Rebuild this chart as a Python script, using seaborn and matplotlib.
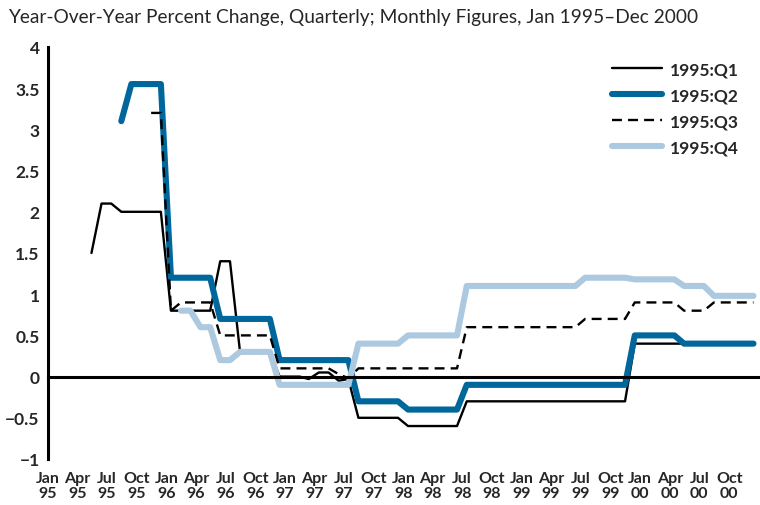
import matplotlib
matplotlib.use("Agg")
import matplotlib.dates as mdates
import matplotlib.pyplot as plt
import numpy as np
import pandas as pd
import seaborn as sns

nan = np.nan

# monthly observations, Jan 1995 - Dec 2000 (one row per year)
months = pd.date_range("1995-01-01", "2000-12-01", freq="MS")

q1 = [
    nan, nan, nan, nan, 1.5, 2.1, 2.1, 2.0, 2.0, 2.0, 2.0, 2.0,
    0.8, 0.8, 0.8, 0.8, 0.8, 1.4, 1.4, 0.3, 0.3, 0.3, 0.3, 0.0,
    0.0, 0.0, -0.03, 0.05, 0.05, -0.05, -0.03, -0.5, -0.5, -0.5, -0.5, -0.5,
    -0.6, -0.6, -0.6, -0.6, -0.6, -0.6, -0.3, -0.3, -0.3, -0.3, -0.3, -0.3,
    -0.3, -0.3, -0.3, -0.3, -0.3, -0.3, -0.3, -0.3, -0.3, -0.3, -0.3, 0.4,
    0.4, 0.4, 0.4, 0.4, 0.4, 0.4, 0.4, 0.4, 0.4, 0.4, 0.4, 0.4,
]
q2 = [
    nan, nan, nan, nan, nan, nan, nan, 3.1, 3.55, 3.55, 3.55, 3.55,
    1.2, 1.2, 1.2, 1.2, 1.2, 0.7, 0.7, 0.7, 0.7, 0.7, 0.7, 0.2,
    0.2, 0.2, 0.2, 0.2, 0.2, 0.2, 0.2, -0.3, -0.3, -0.3, -0.3, -0.3,
    -0.4, -0.4, -0.4, -0.4, -0.4, -0.4, -0.1, -0.1, -0.1, -0.1, -0.1, -0.1,
    -0.1, -0.1, -0.1, -0.1, -0.1, -0.1, -0.1, -0.1, -0.1, -0.1, -0.1, 0.5,
    0.5, 0.5, 0.5, 0.5, 0.4, 0.4, 0.4, 0.4, 0.4, 0.4, 0.4, 0.4,
]
q3 = [
    nan, nan, nan, nan, nan, nan, nan, nan, nan, nan, 3.2, 3.2,
    0.8, 0.9, 0.9, 0.9, 0.9, 0.5, 0.5, 0.5, 0.5, 0.5, 0.5, 0.1,
    0.1, 0.1, 0.1, 0.1, 0.1, 0.03, -0.02, 0.1, 0.1, 0.1, 0.1, 0.1,
    0.1, 0.1, 0.1, 0.1, 0.1, 0.1, 0.6, 0.6, 0.6, 0.6, 0.6, 0.6,
    0.6, 0.6, 0.6, 0.6, 0.6, 0.6, 0.7, 0.7, 0.7, 0.7, 0.7, 0.9,
    0.9, 0.9, 0.9, 0.9, 0.8, 0.8, 0.8, 0.9, 0.9, 0.9, 0.9, 0.9,
]
q4 = [
    nan, nan, nan, nan, nan, nan, nan, nan, nan, nan, nan, nan,
    nan, 0.8, 0.8, 0.6, 0.6, 0.2, 0.2, 0.3, 0.3, 0.3, 0.3, -0.1,
    -0.1, -0.1, -0.1, -0.1, -0.1, -0.1, -0.1, 0.4, 0.4, 0.4, 0.4, 0.4,
    0.5, 0.5, 0.5, 0.5, 0.5, 0.5, 1.1, 1.1, 1.1, 1.1, 1.1, 1.1,
    1.1, 1.1, 1.1, 1.1, 1.1, 1.1, 1.2, 1.2, 1.2, 1.2, 1.2, 1.18,
    1.18, 1.18, 1.18, 1.18, 1.1, 1.1, 1.1, 0.98, 0.98, 0.98, 0.98, 0.98,
]

vintages = ["1995:Q1", "1995:Q2", "1995:Q3", "1995:Q4"]
title = "Year-Over-Year Percent Change, Quarterly; Monthly Figures, Jan 1995\u2013Dec 2000"

quarter_ticks = pd.date_range("1995-01-01", "2001-01-01", freq="QS")
quarter_labels = [f"{d:%b}\n{d:%y}" for d in quarter_ticks[:-1]]

styles = {
    "1995:Q1": {"color": "black", "linewidth": 1.7, "linestyle": "-"},
    "1995:Q2": {"color": "#00679d", "linewidth": 4.4, "linestyle": "-"},
    "1995:Q3": {"color": "black", "linewidth": 1.7, "linestyle": (0, (4.2, 2.6))},
    "1995:Q4": {"color": "#adc9e0", "linewidth": 4.4, "linestyle": "-"},
}


def main() -> None:
    df = pd.DataFrame({"date": months + pd.Timedelta(days=14)})
    for name, vals in zip(vintages, [q1, q2, q3, q4]):
        df[name] = vals
    long = df.melt(id_vars="date", var_name="vintage", value_name="pct").dropna()

    sns.set_style("white")
    plt.rcParams["font.family"] = ["Lato", "DejaVu Sans"]
    plt.rcParams["axes.unicode_minus"] = True

    fig = plt.figure(figsize=(7.6, 5.06), dpi=100)
    ax = fig.add_axes([48 / 760, 1 - 460 / 506, (759 - 48) / 760, (460 - 48) / 506])

    for name in vintages:
        sub = long[long["vintage"] == name]
        sns.lineplot(
            data=sub, x="date", y="pct", ax=ax, label=name,
            estimator=None, solid_capstyle="round", dash_capstyle="butt",
            **styles[name],
        )

    ax.set_xlim(quarter_ticks[0], quarter_ticks[-1])
    ax.set_ylim(-1, 4)

    # zero line carries the quarter tick marks
    for side in ["top", "right"]:
        ax.spines[side].set_visible(False)
    ax.spines["bottom"].set_position(("data", 0))
    ax.spines["bottom"].set_linewidth(2.2)
    ax.spines["left"].set_linewidth(2.2)
    ax.spines["bottom"].set_color("black")
    ax.spines["left"].set_color("black")
    ax.set_xticks(quarter_ticks)
    ax.tick_params(axis="x", length=4, width=2, direction="out", labelbottom=False, color="black")

    yt = np.arange(-1, 4.01, 0.5)
    ax.set_yticks(yt, labels=[f"{v:g}".replace("-", "\u2212") for v in yt])
    ax.tick_params(axis="y", length=4, width=2, direction="out", pad=2, labelsize=12.5, color="black")
    for lab in ax.get_yticklabels():
        lab.set_fontweight("bold")

    sec = ax.secondary_xaxis("bottom")
    sec.set_xticks(mdates.date2num(quarter_ticks[:-1]), labels=quarter_labels)
    sec.tick_params(length=0, pad=9, labelsize=11.5)
    sec.spines["bottom"].set_visible(False)
    for lab in sec.get_xticklabels():
        lab.set_fontweight("bold")
        lab.set_linespacing(1.05)

    ax.set_xlabel("")
    ax.set_ylabel("")

    ax.legend(
        loc="upper left", bbox_to_anchor=(612 / 760, 1 - 62 / 506),
        bbox_transform=fig.transFigure, frameon=False,
        handlelength=2.9, handletextpad=0.45, labelspacing=0.58,
        prop={"size": 12.5, "weight": "bold"}, borderaxespad=0, borderpad=0,
    )

    fig.text(8 / 760, 1 - 18 / 506, title, ha="left", va="center", fontsize=13.8)

    fig.savefig("out.png", dpi=100)
    plt.close(fig)


if __name__ == "__main__":
    main()
